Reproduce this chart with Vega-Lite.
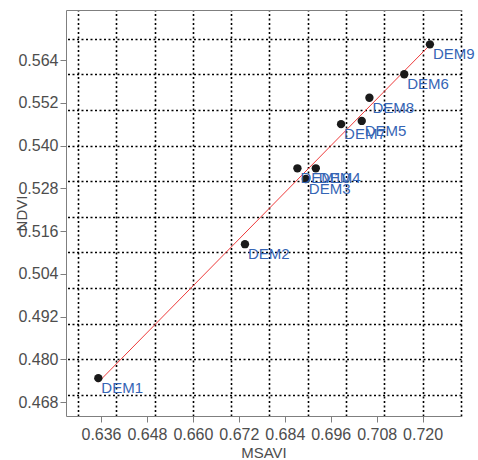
{
  "$schema": "https://vega.github.io/schema/vega-lite/v6.json",
  "autosize": {"type": "none"},
  "padding": {"left": 66, "top": 10, "right": 17, "bottom": 44},
  "width": 395,
  "height": 406,
  "config": {
    "view": {"stroke": null},
    "font": "Liberation Sans",
    "axis": {"labelFont": "Liberation Sans", "titleFont": "Liberation Sans"}
  },
  "data": {
    "values": [
      {"label": "DEM1", "MSAVI": 0.6353, "NDVI": 0.4747},
      {"label": "DEM2", "MSAVI": 0.6736, "NDVI": 0.5123},
      {"label": "DEM3", "MSAVI": 0.6895, "NDVI": 0.5306},
      {"label": "DEM4", "MSAVI": 0.6921, "NDVI": 0.5336},
      {"label": "DEM5", "MSAVI": 0.7041, "NDVI": 0.5469},
      {"label": "DEM6", "MSAVI": 0.7152, "NDVI": 0.5600},
      {"label": "DEM7", "MSAVI": 0.6987, "NDVI": 0.5460},
      {"label": "DEM8", "MSAVI": 0.7061, "NDVI": 0.5534},
      {"label": "DEM9", "MSAVI": 0.7219, "NDVI": 0.5684},
      {"label": "DEM10", "MSAVI": 0.6873, "NDVI": 0.5336}
    ]
  },
  "resolve": {"axis": {"x": "independent", "y": "independent"}},
  "layer": [
    {
      "mark": {"type": "point", "filled": true, "size": 0, "opacity": 0},
      "encoding": {
        "x": {"field": "MSAVI", "type": "quantitative",
          "scale": {"domain": [0.62686, 0.73002], "nice": false, "zero": false},
          "axis": {"orient": "top", "title": null, "labels": false, "ticks": false,
            "domain": true, "domainColor": "#7f7f7f", "domainWidth": 1,
            "grid": true, "gridColor": "#000000", "gridDash": [2, 2.5], "gridWidth": 1.6, "gridOpacity": 1,
            "values": [0.63, 0.64, 0.65, 0.66, 0.67, 0.68, 0.69, 0.70, 0.71, 0.72, 0.73]}},
        "y": {"field": "NDVI", "type": "quantitative",
          "scale": {"domain": [0.46407, 0.57804], "nice": false, "zero": false},
          "axis": {"orient": "right", "title": null, "labels": false, "ticks": false, "domain": false,
            "grid": true, "gridColor": "#000000", "gridDash": [2, 2.5], "gridWidth": 1.6, "gridOpacity": 1,
            "values": [0.47, 0.48, 0.49, 0.50, 0.51, 0.52, 0.53, 0.54, 0.55, 0.56, 0.57]}}
      }
    },
    {
      "transform": [{"regression": "NDVI", "on": "MSAVI"}],
      "mark": {"type": "line", "color": "#ee3b3b", "strokeWidth": 1},
      "encoding": {
        "x": {"field": "MSAVI", "type": "quantitative", "axis": null},
        "y": {"field": "NDVI", "type": "quantitative", "axis": null}
      }
    },
    {
      "mark": {"type": "circle", "size": 70, "color": "#1a1a1a", "opacity": 1},
      "encoding": {
        "x": {"field": "MSAVI", "type": "quantitative", "axis": null},
        "y": {"field": "NDVI", "type": "quantitative", "axis": null}
      }
    },
    {
      "mark": {"type": "text", "align": "left", "baseline": "alphabetic", "dx": 3, "dy": 15,
        "fontSize": 15, "color": "#3565b5", "font": "Liberation Sans"},
      "encoding": {
        "x": {"field": "MSAVI", "type": "quantitative",
          "axis": {"orient": "bottom", "title": "MSAVI", "grid": false,
            "values": [0.636, 0.648, 0.660, 0.672, 0.684, 0.696, 0.708, 0.720],
            "format": ".3f", "domainColor": "#7f7f7f", "tickColor": "#7f7f7f", "tickSize": 6,
            "labelFontSize": 16, "labelColor": "#4d4d4d", "labelPadding": 4,
            "titleFontSize": 15, "titleFontWeight": "normal", "titleColor": "#4d4d4d", "titlePadding": 3}},
        "y": {"field": "NDVI", "type": "quantitative",
          "axis": {"orient": "left", "title": "NDVI", "grid": false,
            "values": [0.468, 0.480, 0.492, 0.504, 0.516, 0.528, 0.540, 0.552, 0.564],
            "format": ".3f", "domainColor": "#7f7f7f", "tickColor": "#7f7f7f", "tickSize": 6,
            "labelFontSize": 16, "labelColor": "#4d4d4d", "labelPadding": 2,
            "titleFontSize": 15, "titleFontWeight": "normal", "titleColor": "#4d4d4d",
            "titleX": -40, "titleBaseline": "alphabetic", "titleAngle": -90}},
        "text": {"field": "label"}
      }
    }
  ]
}
